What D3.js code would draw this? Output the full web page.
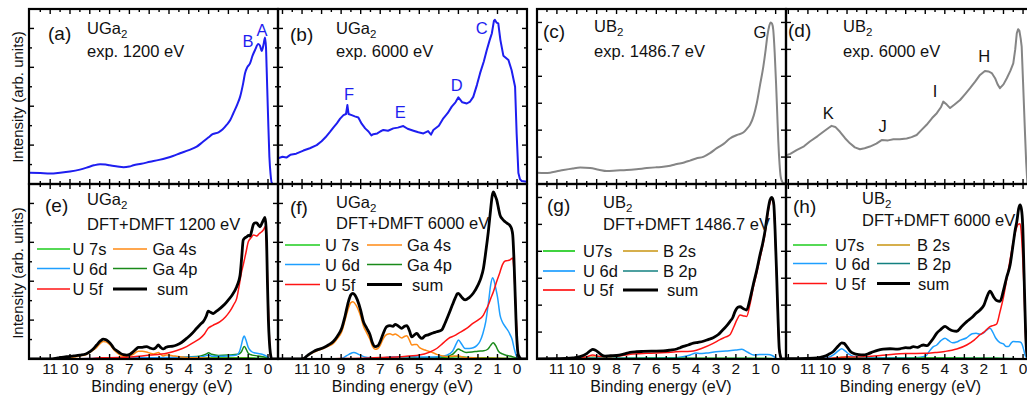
<!DOCTYPE html>
<html><head><meta charset="utf-8">
<script src="https://cdn.jsdelivr.net/npm/d3@7"></script>
<style>body{margin:0;background:#fff} svg{display:block} text{font-family:"Liberation Sans",Arial,sans-serif;fill:#111}</style>
</head><body><svg id="c" width="1027" height="396"></svg>
<script>
// ---------------- DATA: [binding energy (eV), intensity (arb. units)] ----------------
const expA = [[12.05,0.29],[11.5,0.28],[11.0,0.27],[10.5,0.29],[10.0,0.32],[9.5,0.37],[9.16,0.42],[8.8,0.48],[8.48,0.51],[8.2,0.5],[8.0,0.48],[7.6,0.45],[7.3,0.43],[7.0,0.45],[6.8,0.48],[6.4,0.52],[5.96,0.57],[5.5,0.62],[5.12,0.67],[4.8,0.72],[4.44,0.79],[4.0,0.87],[3.6,0.96],[3.3,1.08],[3.0,1.2],[2.8,1.28],[2.5,1.33],[2.3,1.4],[2.09,1.52],[1.9,1.65],[1.75,1.82],[1.55,2.05],[1.41,2.24],[1.25,2.6],[1.16,2.85],[1.05,3.0],[0.91,3.1],[0.78,3.3],[0.66,3.44],[0.49,3.6],[0.4,3.55],[0.32,3.42],[0.22,3.6],[0.15,3.77],[0.1,3.5],[0.07,3.0],[0.0,1.8],[-0.07,0.7],[-0.13,0.25],[-0.19,0.03],[-0.3,0.0],[-0.5,0.0]];
const expB = [[12.23,0.66],[12.0,0.7],[11.8,0.68],[11.6,0.75],[11.3,0.78],[10.93,0.86],[10.6,0.92],[10.25,1.0],[10.0,1.1],[9.8,1.2],[9.57,1.34],[9.4,1.45],[9.22,1.56],[9.05,1.68],[8.88,1.77],[8.75,1.8],[8.68,2.03],[8.62,1.8],[8.46,1.77],[8.3,1.74],[8.12,1.71],[7.95,1.55],[7.77,1.43],[7.6,1.35],[7.45,1.25],[7.35,1.28],[7.15,1.3],[7.0,1.35],[6.84,1.39],[6.6,1.37],[6.33,1.43],[6.1,1.45],[5.82,1.49],[5.6,1.42],[5.3,1.37],[5.05,1.33],[4.79,1.3],[4.55,1.36],[4.4,1.27],[4.28,1.39],[4.0,1.5],[3.77,1.69],[3.55,1.82],[3.34,1.99],[3.15,2.1],[3.0,2.23],[2.8,2.1],[2.57,2.07],[2.4,2.12],[2.24,2.24],[2.05,2.55],[1.89,2.85],[1.7,3.15],[1.55,3.44],[1.4,3.7],[1.29,3.87],[1.18,4.2],[1.13,4.22],[1.05,4.15],[0.96,4.13],[0.85,3.7],[0.7,3.3],[0.44,3.19],[0.28,2.93],[0.1,2.5],[0.02,1.3],[-0.07,0.28],[-0.15,0.12],[-0.24,0.08],[-0.51,0.06]];
const expC = [[12.0,0.42],[11.6,0.41],[11.34,0.42],[11.0,0.47],[10.67,0.52],[10.2,0.58],[9.83,0.61],[9.33,0.59],[8.9,0.53],[8.49,0.48],[8.0,0.5],[7.49,0.52],[7.0,0.55],[6.48,0.59],[6.0,0.62],[5.65,0.64],[5.3,0.68],[4.97,0.74],[4.6,0.8],[4.31,0.87],[4.0,0.95],[3.64,1.01],[3.3,1.15],[2.96,1.33],[2.6,1.5],[2.3,1.69],[1.95,1.82],[1.63,1.91],[1.45,2.05],[1.29,2.2],[1.1,2.55],[0.95,3.0],[0.78,3.7],[0.62,4.36],[0.5,5.0],[0.42,5.48],[0.33,5.85],[0.25,6.0],[0.18,5.95],[0.12,5.72],[0.05,4.9],[-0.02,3.74],[-0.08,2.6],[-0.13,1.63],[-0.2,0.7],[-0.25,0.28],[-0.32,0.1],[-0.38,0.04],[-0.52,0.02]];
const expD = [[12.12,1.07],[11.9,1.12],[11.58,1.26],[11.2,1.4],[10.9,1.58],[10.5,1.78],[10.21,1.94],[9.95,2.08],[9.79,2.16],[9.6,2.12],[9.36,1.94],[9.1,1.7],[8.85,1.51],[8.6,1.36],[8.34,1.29],[8.1,1.33],[7.83,1.39],[7.5,1.5],[7.23,1.63],[6.9,1.62],[6.63,1.66],[6.3,1.66],[5.95,1.69],[5.7,1.74],[5.44,1.82],[5.2,2.0],[4.93,2.2],[4.65,2.45],[4.41,2.63],[4.2,2.85],[4.08,3.06],[3.9,2.95],[3.73,2.82],[3.5,2.95],[3.22,3.12],[2.95,3.35],[2.71,3.56],[2.45,3.8],[2.2,4.05],[1.95,4.2],[1.77,4.18],[1.6,4.12],[1.43,3.93],[1.3,3.7],[1.18,3.56],[1.0,3.7],[0.83,3.93],[0.65,4.2],[0.5,4.48],[0.4,5.0],[0.32,5.6],[0.25,5.75],[0.19,5.7],[0.12,5.4],[0.07,5.1],[0.0,3.8],[-0.1,1.88],[-0.16,0.8],[-0.22,0.04],[-0.56,0.0]];

// (e) UGa2 DFT+DMFT 1200 eV
const sumE = [[12.07,0],[11.0,0.0],[10.6,0.03],[10.17,0.06],[9.8,0.08],[9.5,0.1],[9.2,0.13],[8.99,0.19],[8.8,0.27],[8.65,0.36],[8.45,0.47],[8.32,0.51],[8.2,0.5],[8.06,0.45],[7.9,0.36],[7.81,0.29],[7.6,0.2],[7.47,0.15],[7.3,0.11],[7.14,0.1],[6.95,0.13],[6.8,0.19],[6.65,0.26],[6.55,0.3],[6.35,0.3],[6.13,0.32],[5.95,0.28],[5.79,0.26],[5.65,0.3],[5.54,0.36],[5.42,0.3],[5.29,0.26],[5.15,0.3],[5.04,0.32],[4.8,0.33],[4.61,0.36],[4.35,0.43],[4.11,0.53],[3.85,0.65],[3.6,0.79],[3.4,0.9],[3.27,0.96],[3.12,1.1],[3.02,1.23],[2.9,1.2],[2.76,1.17],[2.6,1.23],[2.42,1.3],[2.2,1.4],[2.0,1.52],[1.8,1.65],[1.58,1.86],[1.48,2.0],[1.41,2.16],[1.33,2.6],[1.25,3.06],[1.15,3.12],[1.08,3.14],[0.98,3.18],[0.91,3.16],[0.82,3.3],[0.74,3.46],[0.65,3.5],[0.57,3.5],[0.48,3.44],[0.4,3.4],[0.3,3.5],[0.22,3.58],[0.15,3.64],[0.1,3.4],[0.07,3.02],[0.03,2.0],[-0.02,1.0],[-0.07,0.45],[-0.12,0.15],[-0.19,0.0],[-0.5,0]];
const u5fE = [[12.07,0],[10,0.0],[9,0.01],[8.5,0.03],[7.5,0.04],[6.8,0.06],[6,0.1],[5.12,0.15],[4.6,0.22],[4.11,0.32],[3.75,0.43],[3.43,0.53],[3.2,0.65],[3.02,0.79],[2.8,0.86],[2.42,0.96],[2.15,1.08],[1.92,1.23],[1.75,1.38],[1.58,1.56],[1.45,1.9],[1.35,2.2],[1.25,2.42],[1.12,2.72],[0.99,3.02],[0.85,3.12],[0.74,3.19],[0.65,3.18],[0.57,3.16],[0.45,3.22],[0.32,3.27],[0.22,3.33],[0.15,3.4],[0.08,3.0],[0.02,2.0],[-0.02,1.3],[-0.08,0.4],[-0.14,0.0],[-0.5,0]];
const ga4sE = [[12.07,0],[11,0],[10.5,0.02],[10,0.04],[9.5,0.08],[9.2,0.11],[9,0.17],[8.8,0.24],[8.65,0.3],[8.45,0.41],[8.32,0.45],[8.2,0.44],[8.06,0.4],[7.9,0.32],[7.81,0.25],[7.6,0.15],[7.47,0.1],[7.3,0.07],[7.14,0.07],[6.95,0.09],[6.8,0.12],[6.65,0.18],[6.55,0.2],[6.35,0.2],[6.13,0.18],[5.95,0.15],[5.79,0.13],[5.65,0.15],[5.54,0.17],[5.42,0.12],[5.29,0.08],[5.15,0.1],[5.04,0.1],[4.8,0.08],[4.61,0.07],[4.3,0.05],[4.11,0.04],[3.5,0.03],[3,0.02],[2,0.01],[1,0.01],[0,0],[-0.5,0]];
const u6dE = [[12.07,0],[10,0],[9,0.01],[8.2,0.03],[7.5,0.02],[6.5,0.03],[5,0.04],[4,0.05],[3.3,0.06],[3.0,0.1],[2.8,0.07],[2.4,0.07],[2.0,0.08],[1.6,0.1],[1.45,0.18],[1.35,0.35],[1.25,0.55],[1.2,0.59],[1.12,0.5],[1.0,0.3],[0.85,0.2],[0.7,0.16],[0.5,0.14],[0.3,0.12],[0.1,0.08],[0,0.04],[-0.1,0],[-0.5,0]];
const ga4pE = [[12.07,0],[9,0],[8,0.01],[6,0.02],[5,0.03],[4,0.05],[3.4,0.08],[3.1,0.13],[3.0,0.16],[2.85,0.12],[2.5,0.09],[2.0,0.1],[1.5,0.12],[1.35,0.18],[1.2,0.32],[1.1,0.25],[1.0,0.15],[0.8,0.1],[0.5,0.08],[0.2,0.05],[0,0.02],[-0.1,0],[-0.5,0]];
const u7sE = [[12.07,0],[8,0.0],[6,0.01],[4,0.02],[3,0.03],[2,0.03],[1,0.03],[0.3,0.02],[0,0.01],[-0.5,0]];

// (f) UGa2 DFT+DMFT 6000 eV
const sumF = [[12.23,0],[11.2,0],[10.93,0.01],[10.7,0.1],[10.42,0.19],[10.2,0.24],[9.91,0.29],[9.65,0.36],[9.4,0.45],[9.2,0.58],[8.97,0.79],[8.8,1.1],[8.63,1.47],[8.5,1.65],[8.4,1.69],[8.3,1.65],[8.17,1.52],[8.0,1.25],[7.86,0.96],[7.7,0.8],[7.52,0.62],[7.4,0.42],[7.26,0.32],[7.12,0.34],[7.0,0.45],[6.85,0.65],[6.67,0.83],[6.5,0.86],[6.35,0.84],[6.24,0.89],[6.08,0.85],[5.9,0.79],[5.76,0.84],[5.64,0.86],[5.5,0.72],[5.39,0.57],[5.25,0.62],[5.13,0.66],[5.0,0.58],[4.87,0.53],[4.7,0.6],[4.54,0.62],[4.3,0.67],[4.11,0.7],[3.85,0.75],[3.7,0.9],[3.51,1.13],[3.3,1.4],[3.17,1.56],[3.05,1.68],[3.0,1.69],[2.85,1.6],[2.66,1.52],[2.45,1.58],[2.24,1.69],[2.0,1.9],[1.85,2.08],[1.72,2.33],[1.6,2.75],[1.47,3.27],[1.35,3.85],[1.27,4.2],[1.21,4.3],[1.12,4.2],[1.04,4.09],[0.95,3.88],[0.87,3.7],[0.75,3.6],[0.61,3.53],[0.48,3.48],[0.36,3.43],[0.28,3.35],[0.22,3.19],[0.16,2.6],[0.1,1.73],[0.02,0.6],[-0.07,0.1],[-0.24,0],[-0.51,0]];
const ga4sF = [[12.23,0],[11.2,0],[10.93,0.01],[10.7,0.09],[10.42,0.17],[10.2,0.22],[9.91,0.27],[9.65,0.33],[9.4,0.4],[9.2,0.52],[8.97,0.7],[8.8,1.0],[8.63,1.3],[8.5,1.45],[8.4,1.47],[8.3,1.43],[8.17,1.32],[8.0,1.1],[7.86,0.85],[7.7,0.68],[7.52,0.5],[7.4,0.33],[7.26,0.25],[7.12,0.27],[7.0,0.35],[6.85,0.52],[6.67,0.63],[6.5,0.65],[6.35,0.62],[6.24,0.64],[6.08,0.6],[5.9,0.54],[5.76,0.58],[5.64,0.6],[5.5,0.48],[5.39,0.36],[5.25,0.37],[5.13,0.37],[5.0,0.3],[4.87,0.26],[4.7,0.23],[4.54,0.2],[4.3,0.16],[4.11,0.12],[3.8,0.08],[3.5,0.06],[3.2,0.08],[3.0,0.08],[2.7,0.04],[2.3,0.03],[1.5,0.02],[0.5,0.01],[0,0],[-0.51,0]];
const u6dF = [[12.23,0],[9.2,0],[8.9,0.03],[8.6,0.12],[8.35,0.17],[8.1,0.12],[7.8,0.05],[7.5,0.03],[7.0,0.03],[6.5,0.05],[6.0,0.06],[5.5,0.06],[5.0,0.05],[4.5,0.05],[4.0,0.06],[3.6,0.1],[3.3,0.2],[3.1,0.4],[3.0,0.49],[2.88,0.42],[2.66,0.27],[2.45,0.27],[2.24,0.29],[2.05,0.35],[1.9,0.45],[1.75,0.65],[1.6,0.96],[1.45,1.5],[1.35,1.9],[1.25,2.09],[1.18,2.02],[1.08,1.8],[1.0,1.6],[0.87,1.13],[0.75,0.95],[0.6,0.83],[0.45,0.72],[0.35,0.62],[0.25,0.5],[0.15,0.28],[0.05,0.1],[-0.05,0.02],[-0.1,0],[-0.51,0]];
const u5fF = [[12.23,0],[11,0],[10,0.0],[9,0.01],[8,0.02],[7,0.04],[6,0.06],[5,0.1],[4.5,0.17],[4.11,0.27],[3.8,0.4],[3.5,0.53],[3.2,0.6],[3.0,0.66],[2.6,0.78],[2.24,0.92],[2.0,1.0],[1.72,1.13],[1.6,1.25],[1.47,1.39],[1.35,1.55],[1.21,1.73],[1.05,1.98],[0.87,2.24],[0.75,2.42],[0.61,2.52],[0.48,2.53],[0.36,2.55],[0.28,2.58],[0.22,2.6],[0.16,2.3],[0.1,1.73],[0.0,0.6],[-0.07,0.05],[-0.2,0],[-0.51,0]];
const ga4pF = [[12.23,0],[8,0],[7,0.01],[6,0.02],[5,0.03],[4.2,0.04],[3.6,0.07],[3.3,0.12],[3.1,0.22],[3.0,0.26],[2.85,0.22],[2.6,0.17],[2.3,0.18],[2.0,0.2],[1.7,0.21],[1.5,0.25],[1.35,0.35],[1.22,0.42],[1.1,0.35],[0.95,0.2],[0.75,0.13],[0.5,0.09],[0.25,0.06],[0.05,0.03],[-0.1,0],[-0.51,0]];
const u7sF = [[12.23,0],[7,0],[5,0.01],[4,0.03],[3.4,0.05],[3.1,0.06],[2.5,0.04],[1.5,0.03],[0.5,0.02],[0,0.01],[-0.51,0]];

// (g) UB2 DFT+DMFT 1486.7 eV
const sumG = [[12.0,0],[11,0.01],[10.5,0.02],[10.2,0.04],[9.83,0.09],[9.5,0.2],[9.3,0.32],[9.2,0.36],[9.05,0.32],[8.91,0.25],[8.75,0.15],[8.58,0.11],[8.3,0.12],[7.99,0.13],[7.65,0.18],[7.32,0.25],[7.0,0.27],[6.65,0.28],[6.2,0.29],[5.65,0.3],[5.3,0.33],[4.97,0.37],[4.8,0.42],[4.64,0.47],[4.4,0.52],[4.14,0.59],[3.9,0.62],[3.64,0.66],[3.4,0.72],[3.14,0.79],[2.9,0.9],[2.71,1.04],[2.5,1.2],[2.3,1.39],[2.15,1.55],[2.05,1.75],[1.9,1.92],[1.79,1.94],[1.62,1.87],[1.46,1.82],[1.3,2.2],[1.13,2.75],[0.95,3.3],[0.79,3.86],[0.65,4.3],[0.54,4.73],[0.45,5.2],[0.37,5.6],[0.28,5.92],[0.2,6.0],[0.13,5.9],[0.09,5.72],[0.03,4.8],[-0.05,3.12],[-0.12,1.5],[-0.18,0.39],[-0.25,0.08],[-0.3,0],[-0.52,0]];
const u5fG = [[12.0,0],[10.5,0.01],[10,0.02],[9.5,0.08],[9.2,0.15],[8.9,0.1],[8.5,0.08],[8.0,0.1],[7.3,0.18],[6.5,0.21],[6.0,0.22],[5.5,0.24],[5.0,0.27],[4.5,0.28],[4.14,0.3],[3.7,0.4],[3.14,0.58],[2.8,0.72],[2.5,0.82],[2.3,0.9],[2.1,1.2],[1.95,1.45],[1.79,1.63],[1.62,1.6],[1.46,1.58],[1.3,2.0],[1.13,2.63],[0.95,3.2],[0.79,3.74],[0.65,4.2],[0.54,4.63],[0.45,5.1],[0.37,5.5],[0.28,5.82],[0.2,5.95],[0.13,5.85],[0.09,5.66],[0.03,4.7],[-0.05,3.05],[-0.12,1.4],[-0.18,0.34],[-0.25,0.06],[-0.3,0],[-0.52,0]];
const u6dG = [[12.0,0],[10,0.01],[9.2,0.04],[8.5,0.03],[7,0.03],[6,0.04],[5.0,0.05],[4.6,0.09],[4.3,0.15],[4.0,0.22],[3.8,0.2],[3.5,0.22],[3.0,0.27],[2.5,0.3],[2.0,0.33],[1.7,0.36],[1.4,0.25],[1.1,0.15],[0.8,0.17],[0.4,0.17],[0.15,0.12],[0,0.04],[-0.1,0],[-0.52,0]];
const b2sG = [[12,0],[10,0.01],[9.5,0.03],[9.2,0.07],[8.9,0.04],[8.5,0.02],[7,0.01],[5,0.01],[0,0],[-0.52,0]];
const b2pG = [[12,0],[10,0.01],[9.2,0.03],[8,0.03],[7,0.03],[6,0.03],[5,0.03],[4,0.02],[2,0.02],[1,0.01],[0,0],[-0.52,0]];
const u7sG = [[12,0],[10,0.01],[8,0.02],[6,0.03],[4,0.03],[2,0.03],[0.5,0.03],[0,0.01],[-0.52,0]];

// (h) UB2 DFT+DMFT 6000 eV
const sumH = [[12.12,0.01],[11,0.02],[10.5,0.04],[10.21,0.09],[9.95,0.17],[9.7,0.28],[9.45,0.48],[9.27,0.6],[9.15,0.58],[9.02,0.47],[8.85,0.3],[8.68,0.21],[8.4,0.16],[8.17,0.15],[7.9,0.2],[7.66,0.27],[7.4,0.33],[7.15,0.37],[6.8,0.38],[6.5,0.37],[6.29,0.38],[6.0,0.42],[5.8,0.41],[5.61,0.46],[5.4,0.43],[5.2,0.5],[5.1,0.52],[4.9,0.5],[4.76,0.6],[4.6,0.75],[4.41,0.96],[4.2,1.1],[3.99,1.21],[3.8,1.12],[3.6,1.05],[3.39,1.03],[3.15,1.2],[2.88,1.39],[2.6,1.55],[2.4,1.7],[2.2,1.82],[2.0,2.0],[1.85,2.3],[1.69,2.52],[1.5,2.3],[1.35,2.17],[1.18,2.14],[1.0,2.55],[0.85,3.0],[0.66,3.5],[0.5,4.3],[0.4,4.8],[0.32,5.1],[0.22,5.6],[0.15,5.72],[0.08,5.55],[0.02,5.0],[-0.05,3.2],[-0.1,1.8],[-0.15,0.65],[-0.22,0.1],[-0.3,0],[-0.56,0]];
const u5fH = [[12.12,0],[11,0.01],[10,0.02],[9.3,0.06],[9,0.08],[8.5,0.07],[8,0.09],[7,0.15],[6,0.2],[5,0.21],[4.5,0.24],[4.0,0.28],[3.39,0.37],[2.88,0.52],[2.5,0.7],[2.2,0.9],[2.0,1.0],[1.85,1.1],[1.69,1.2],[1.5,1.25],[1.35,1.3],[1.18,1.75],[1.0,2.3],[0.85,2.9],[0.66,3.7],[0.5,4.35],[0.38,4.75],[0.25,5.0],[0.15,5.02],[0.08,4.6],[0.02,3.8],[-0.05,2.6],[-0.1,1.4],[-0.15,0.5],[-0.22,0.08],[-0.3,0],[-0.56,0]];
const u6dH = [[12.12,0],[10.5,0.02],[10,0.05],[9.7,0.15],[9.45,0.3],[9.27,0.38],[9.1,0.3],[8.9,0.18],[8.6,0.08],[8.2,0.05],[7,0.05],[6,0.05],[5.5,0.05],[5.0,0.1],[4.76,0.32],[4.6,0.45],[4.41,0.52],[4.2,0.68],[3.99,0.77],[3.8,0.68],[3.6,0.6],[3.4,0.63],[3.2,0.7],[2.9,0.78],[2.6,0.94],[2.4,0.96],[2.2,0.92],[2.0,0.98],[1.85,1.08],[1.69,1.14],[1.55,1.0],[1.4,0.78],[1.2,0.62],[1.0,0.56],[0.85,0.46],[0.75,0.46],[0.6,0.6],[0.5,0.65],[0.3,0.64],[0.15,0.63],[0.05,0.55],[-0.05,0.3],[-0.1,0.15],[-0.2,0.03],[-0.3,0],[-0.56,0]];
const b2sH = [[12.12,0],[10,0.01],[9.5,0.04],[9.27,0.07],[9,0.05],[8.5,0.03],[7,0.02],[5,0.02],[3,0.01],[0,0],[-0.56,0]];
const b2pH = [[12.12,0],[10,0.01],[9.2,0.03],[8,0.04],[6,0.04],[4,0.04],[2,0.03],[1,0.02],[0,0.01],[-0.56,0]];
const u7sH = [[12.12,0],[10,0.01],[8,0.02],[6,0.03],[4.5,0.04],[4,0.04],[3,0.03],[2,0.03],[1,0.02],[0,0.01],[-0.56,0]];

// peak labels: [text, energy, intensity] at label centre
const peaksA = [['B',1.01,3.68],['A',0.3,3.96]];
const peaksB = [['F',8.59,2.31],['E',5.98,1.85],['D',3.08,2.54],['C',1.81,4.01]];
const peaksC = [['G',0.79,5.66]];
const peaksD = [['K',9.96,2.63],['J',7.18,2.16],['I',4.5,3.47],['H',1.99,4.75]];

const tickLabels = [0,1,2,3,4,5,6,7,8,9,10,11];
const legendUGa = [["U 7s","U 6d","U 5f"],["Ga 4s","Ga 4p","sum"]];
const legendUB = [["U7s","U 6d","U 5f"],["B 2s","B 2p","sum"]];

// ---------------- STYLE / LAYOUT ----------------
const C = {u7s:"#1ecc1e", u6d:"#1e9fff", u5f:"#ff1414", ga4s:"#ff8a14", ga4p:"#1a8a1a", b2s:"#c89410", b2p:"#138080", sum:"#000", expBlue:"#1e1ef0", expGrey:"#858585"};
const cols = [{r:[29,278], d:[12.07,-0.505]}, {r:[278,527], d:[12.23,-0.51]}, {r:[537,786], d:[12.0,-0.52]}, {r:[786,1034], d:[12.12,-0.56]}];
const rows = [[184,9],[359,184]];
const svg = d3.select('#c');

function formula(g, x, y, base, sub) {
  const t = g.append('text').attr('x', x).attr('y', y).attr('font-size', 16.5);
  t.append('tspan').text(base);
  t.append('tspan').attr('dy', 4).attr('font-size', 11.5).text(sub);
}

const panels = [
  {col:0,row:0,ymax:4.5,type:'ga',letter:'(a)',lp:[48,40],f:['UGa','2'],fp:[87,34],sub:'exp. 1200 eV',sp:[87,57],
   series:[{d:expA,c:C.expBlue,w:2}], peaks:{list:peaksA,c:C.expBlue}},
  {col:1,row:0,ymax:4.5,type:'ga',letter:'(b)',lp:[290,41],f:['UGa','2'],fp:[336,34],sub:'exp. 6000 eV',sp:[336,56.5],
   series:[{d:expB,c:C.expBlue,w:2,lin:true}], peaks:{list:peaksB,c:C.expBlue}},
  {col:2,row:0,ymax:6.5,type:'ub',letter:'(c)',lp:[543,38],f:['UB','2'],fp:[594,32],sub:'exp. 1486.7 eV',sp:[594,56.5],
   series:[{d:expC,c:C.expGrey,w:2}], peaks:{list:peaksC,c:'#111'}},
  {col:3,row:0,ymax:6.5,type:'ub',letter:'(d)',lp:[788,37],f:['UB','2'],fp:[843,32],sub:'exp. 6000 eV',sp:[843,56.5],
   series:[{d:expD,c:C.expGrey,w:2,lin:true}], peaks:{list:peaksD,c:'#111'}},
  {col:0,row:1,ymax:4.5,type:'ga',letter:'(e)',lp:[45,212],f:['UGa','2'],fp:[87,205],sub:'DFT+DMFT 1200 eV',sp:[87,229.5],
   series:[{d:u7sE,c:C.u7s},{d:ga4pE,c:C.ga4p},{d:u6dE,c:C.u6d},{d:ga4sE,c:C.ga4s},{d:u5fE,c:C.u5f},{d:sumE,c:C.sum,w:2.8}],
   legend:{items:legendUGa,colors:[[C.u7s,C.u6d,C.u5f],[C.ga4s,C.ga4p,C.sum]],rowsY:[249,268.5,289],l1:[37,70,72.5],l2:[113,147,152.5],sumX:157}},
  {col:1,row:1,ymax:4.5,type:'ga',letter:'(f)',lp:[290,213.5],f:['UGa','2'],fp:[336,208],sub:'DFT+DMFT 6000 eV',sp:[336,229],
   series:[{d:u7sF,c:C.u7s},{d:ga4pF,c:C.ga4p},{d:u6dF,c:C.u6d},{d:ga4sF,c:C.ga4s},{d:u5fF,c:C.u5f},{d:sumF,c:C.sum,w:2.8}],
   legend:{items:legendUGa,colors:[[C.u7s,C.u6d,C.u5f],[C.ga4s,C.ga4p,C.sum]],rowsY:[245,264.5,284.5],l1:[285,320,325],l2:[367,402,407],sumX:412}},
  {col:2,row:1,ymax:6.5,type:'ub',letter:'(g)',lp:[547,212],f:['UB','2'],fp:[603,208],sub:'DFT+DMFT 1486.7 eV',sp:[603,229.5],
   series:[{d:b2pG,c:C.b2p},{d:b2sG,c:C.b2s},{d:u6dG,c:C.u6d},{d:u5fG,c:C.u5f},{d:u7sG,c:C.u7s},{d:sumG,c:C.sum,w:2.8}],
   legend:{items:legendUB,colors:[[C.u7s,C.u6d,C.u5f],[C.b2s,C.b2p,C.sum]],rowsY:[251,271,290],l1:[543,575,583],l2:[623,658,663],sumX:667}},
  {col:3,row:1,ymax:6.5,type:'ub',letter:'(h)',lp:[793,212.5],f:['UB','2'],fp:[862,204],sub:'DFT+DMFT 6000 eV',sp:[862,225.5],
   series:[{d:b2pH,c:C.b2p},{d:b2sH,c:C.b2s},{d:u6dH,c:C.u6d},{d:u5fH,c:C.u5f},{d:u7sH,c:C.u7s},{d:sumH,c:C.sum,w:2.8}],
   legend:{items:legendUB,colors:[[C.u7s,C.u6d,C.u5f],[C.b2s,C.b2p,C.sum]],rowsY:[245,263.5,283.5],l1:[793,827,835],l2:[877,910,917],sumX:918}},
];

const defs = svg.append('defs');
panels.forEach((p, i) => {
  const col = cols[p.col], rr = rows[p.row];
  const x = d3.scaleLinear().domain(col.d).range(col.r);
  const y = d3.scaleLinear().domain([0, p.ymax]).range(rr);
  const x0 = col.r[0], x1 = col.r[1], yT = rr[1], yB = rr[0];
  defs.append('clipPath').attr('id', 'cp' + i).append('rect').attr('x', x0).attr('y', yT).attr('width', x1 - x0).attr('height', yB - yT);
  const g = svg.append('g');
  const cg = g.append('g').attr('clip-path', `url(#cp${i})`);
  p.series.forEach(s => {
    const line = d3.line().x(d => x(d[0])).y(d => y(d[1])).curve(s.lin ? d3.curveLinear : d3.curveMonotoneX);
    cg.append('path').datum(s.d).attr('d', line).attr('fill', 'none').attr('stroke', s.c)
      .attr('stroke-width', s.w || 1.5).attr('stroke-linejoin', 'round');
  });
  // ticks (inward, mirrored on all four sides)
  const tg = g.append('g').attr('stroke', '#000').attr('stroke-width', 1.4);
  const xt = d3.range(-1, 13.01, 0.5).filter(v => { const px = x(v); return px > x0 + 2 && px < x1 - 2; });
  xt.forEach(v => {
    const L = Number.isInteger(v) ? 5 : 3, px = x(v);
    tg.append('line').attr('x1', px).attr('x2', px).attr('y1', yB).attr('y2', yB - L);
    tg.append('line').attr('x1', px).attr('x2', px).attr('y1', yT).attr('y2', yT + L);
  });
  const yt = p.type === 'ga' ? d3.range(0.5, 4.01, 0.5) : d3.range(1, 6.01, 1);
  yt.forEach(v => {
    const L = (p.type === 'ub' || Number.isInteger(v)) ? 5 : 3, py = y(v);
    tg.append('line').attr('x1', x0).attr('x2', x0 + L).attr('y1', py).attr('y2', py);
    tg.append('line').attr('x1', x1).attr('x2', x1 - L).attr('y1', py).attr('y2', py);
  });
  g.append('rect').attr('x', x0).attr('y', yT).attr('width', x1 - x0).attr('height', yB - yT)
    .attr('fill', 'none').attr('stroke', '#000').attr('stroke-width', 2.2);
  // texts
  g.append('text').attr('x', p.lp[0]).attr('y', p.lp[1]).attr('font-size', 19).text(p.letter);
  formula(g, p.fp[0], p.fp[1], p.f[0], p.f[1]);
  g.append('text').attr('x', p.sp[0]).attr('y', p.sp[1]).attr('font-size', 16.5).text(p.sub);
  if (p.peaks) {
    p.peaks.list.forEach(([t, e, v]) => {
      g.append('text').attr('x', x(e)).attr('y', y(v) + 6).attr('text-anchor', 'middle')
        .attr('font-size', 16.5).style('fill', p.peaks.c).text(t);
    });
  }
  if (p.legend) {
    const L = p.legend;
    [0, 1].forEach(c => {
      const lx = c === 0 ? L.l1 : L.l2;
      L.items[c].forEach((name, r) => {
        const isSum = name === 'sum';
        g.append('line').attr('x1', lx[0]).attr('x2', lx[1]).attr('y1', L.rowsY[r]).attr('y2', L.rowsY[r])
          .attr('stroke', L.colors[c][r]).attr('stroke-width', isSum ? 3.2 : 1.7);
        g.append('text').attr('x', isSum ? L.sumX : lx[2]).attr('y', L.rowsY[r] + 6).attr('font-size', 16.5).text(name);
      });
    });
  }
  if (p.row === 1) {
    tickLabels.forEach(v => {
      g.append('text').attr('x', x(v)).attr('y', 373.5).attr('text-anchor', 'middle').attr('font-size', 15.5).text(v);
    });
  }
});

// axis titles
const titleX = [162, 402.5, 661, 910.5];
titleX.forEach(cx => svg.append('text').attr('x', cx).attr('y', 392).attr('text-anchor', 'middle').attr('font-size', 16).text('Binding energy (eV)'));
[97, 273].forEach(cy => svg.append('text').attr('transform', `translate(23,${cy}) rotate(-90)`).attr('text-anchor', 'middle').attr('font-size', 15).text('Intensity (arb. units)'));
</script></body></html>
